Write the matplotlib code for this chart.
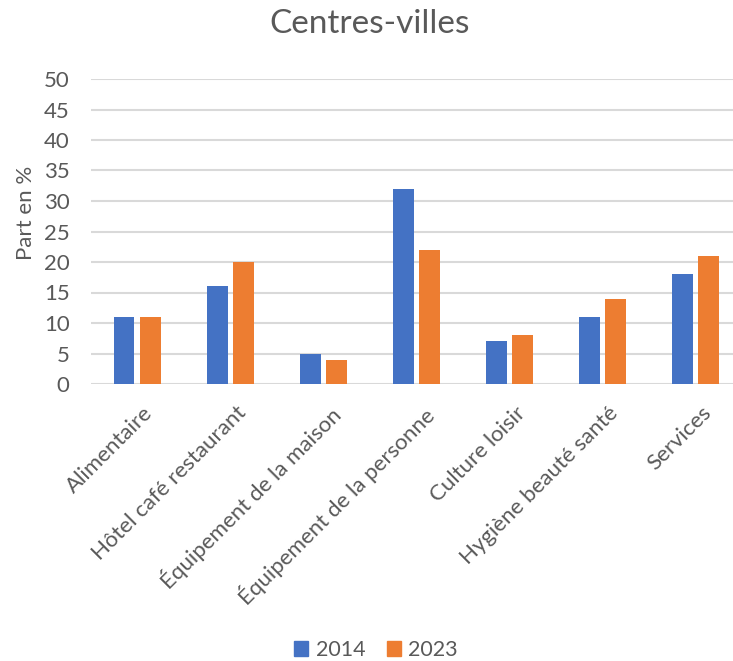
import matplotlib
matplotlib.use("Agg")
import matplotlib.pyplot as plt
import numpy as np
from matplotlib.patches import Patch

categories = ["Alimentaire", "Hôtel café restaurant", "Équipement de la maison",
              "Équipement de la personne", "Culture loisir", "Hygiène beauté santé", "Services"]
series_2014 = [11, 16, 5, 32, 7, 11, 18]
series_2023 = [11, 20, 4, 22, 8, 14, 21]
yticks = [0, 5, 10, 15, 20, 25, 30, 35, 40, 45, 50]
title = "Centres-villes"
ylabel = "Part en %"

plt.rcParams['font.family'] = ['Lato', 'DejaVu Sans']
txt = '#595959'
blue = '#4472C4'
orange = '#ED7D31'

fig = plt.figure(figsize=(7.33, 6.61), dpi=100)
ax = fig.add_axes([90.5/733, 1-384/661, (742-90.5)/733, (384-79)/661])

x = np.arange(len(categories))
w = 0.225
off = 0.14
ax.bar(x - off, series_2014, w, color=blue, zorder=3, label='2014')
ax.bar(x + off, series_2023, w, color=orange, zorder=3, label='2023')

ax.set_xlim(-0.5, len(categories) - 0.5)
ax.set_ylim(0, 50)
ax.set_yticks(yticks)
ax.yaxis.grid(True, color='#D9D9D9', linewidth=1.5, zorder=0)
ax.set_axisbelow(True)
for s in ax.spines.values():
    s.set_visible(False)
ax.tick_params(axis='y', length=0, labelsize=16, colors=txt, pad=15)
ax.tick_params(axis='x', length=0, labelsize=16, colors=txt, pad=8)
ax.set_xticks(x + 0.06)
ax.set_xticklabels(categories, rotation=45, ha='right', rotation_mode='anchor')
for lab in ax.get_xticklabels():
    lab.set_y(-0.025)

ax.set_ylabel(ylabel, fontsize=16, color=txt)
ax.yaxis.set_label_coords(26/733, 1-213/661, transform=fig.transFigure)
ax.yaxis.label.set_va('center')
fig.text(370/733, 1-24/661, title, ha='center', va='center', fontsize=24, color=txt)

handles = [Patch(color=blue, label='2014'), Patch(color=orange, label='2023')]
fig.legend(handles=handles, loc='center', bbox_to_anchor=(376/733, 1-650/661), ncol=2,
           frameon=False, fontsize=15.5, labelcolor=txt, handlelength=0.65, handleheight=0.65,
           handletextpad=0.35, columnspacing=1.0)

fig.savefig('out.png', dpi=100)
